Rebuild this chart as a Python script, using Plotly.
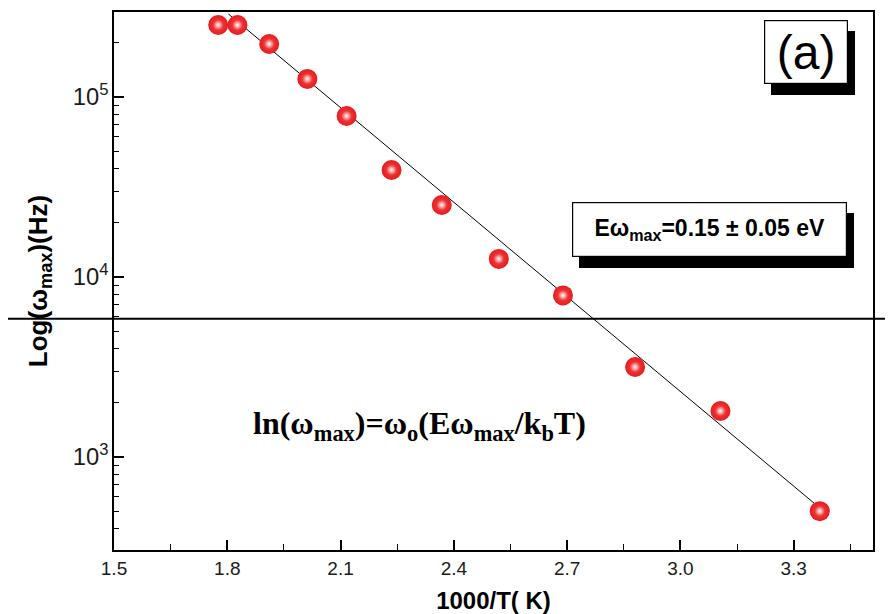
import plotly.graph_objects as go

# ---- data ----
inv_T = [1.776, 1.827, 1.911, 2.012, 2.116, 2.235, 2.368, 2.519, 2.689, 2.880, 3.106, 3.369]
omega_max = [2.51e5, 2.51e5, 1.97e5, 1.26e5, 7.84e4, 3.93e4, 2.51e4, 1.26e4, 7.9e3, 3.16e3, 1.80e3, 500]
fit_x = [1.803, 3.369]
fit_y = [2.89e5, 521]
hline_y = 5850
x_range = [1.5, 3.51]
y_range_log = [2.483, 5.472]
x_ticks = [1.5, 1.8, 2.1, 2.4, 2.7, 3.0, 3.3]
x_ticklabels = ["1.5", "1.8", "2.1", "2.4", "2.7", "3.0", "3.3"]

SANS = "Liberation Sans, Arial, sans-serif"
SERIF = "Liberation Serif, Times New Roman, serif"
RED = "#e8191c"

fig = go.Figure()

fig.add_trace(go.Scatter(
    x=fit_x, y=fit_y, mode="lines",
    line=dict(color="black", width=1), showlegend=False, hoverinfo="skip"))

# sphere body
fig.add_trace(go.Scatter(
    x=inv_T, y=omega_max, mode="markers",
    marker=dict(size=20, color=RED,
                gradient=dict(type="radial", color="#f05050"),
                line=dict(width=0)),
    showlegend=False))
# sphere highlight
fig.add_trace(go.Scatter(
    x=inv_T, y=omega_max, mode="markers",
    marker=dict(size=10, color="#ee3a3a",
                gradient=dict(type="radial", color="#ffffff"),
                line=dict(width=0)),
    showlegend=False, hoverinfo="skip"))

fig.add_shape(type="line", xref="paper", yref="y",
              x0=-0.14, x1=1.03, y0=hline_y, y1=hline_y,
              line=dict(color="black", width=2))


def boxed(text, x, y, size, w, h, font_family, sx, sy):
    common = dict(xref="paper", yref="paper", x=x, y=y, text=text, showarrow=False,
                  xanchor="center", yanchor="middle", width=w, height=h,
                  font=dict(size=size, color="black", family=font_family))
    fig.add_annotation(bgcolor="black", bordercolor="black", borderwidth=1,
                       xshift=sx, yshift=sy, **common)
    fig.add_annotation(bgcolor="white", bordercolor="black", borderwidth=1.2, **common)


boxed("(a)", 0.912, 0.925, 48, 80, 60, SANS, 7, -11)
boxed("<b>Eω<sub>max</sub>=0.15 ± 0.05 eV</b>", 0.785, 0.595, 23, 271, 51, SANS, 7, -11)

fig.add_annotation(xref="paper", yref="paper", x=0.403, y=0.232, showarrow=False,
                   xanchor="center", yanchor="middle",
                   text="<b>ln(ω<sub>max</sub>)=ω<sub>o</sub>(Eω<sub>max</sub>/k<sub>b</sub>T)</b>",
                   font=dict(size=32, color="black", family=SERIF))

axis_common = dict(showline=True, linecolor="black", linewidth=1.5, mirror=True,
                   ticks="inside", tickcolor="black", tickwidth=1.5, ticklen=10,
                   showgrid=False, zeroline=False, automargin=False)

fig.update_xaxes(range=x_range, tickmode="array", tickvals=x_ticks, ticktext=x_ticklabels,
                 tickfont=dict(family=SANS, size=19, color="#1a1a1a"),
                 minor=dict(ticks="inside", ticklen=6, tickwidth=1.2, tickcolor="black",
                            dtick=0.15, tick0=1.5),
                 title=dict(text="<b>1000/T( K)</b>", standoff=16,
                            font=dict(family=SANS, size=24, color="black")),
                 **axis_common)
fig.update_yaxes(type="log", range=y_range_log,
                 dtick=1, exponentformat="power",
                 tickfont=dict(family=SANS, size=19, color="#1a1a1a"),
                 minor=dict(ticks="inside", ticklen=5, tickwidth=1.2, tickcolor="black", dtick="D1"),
                 title=dict(text="<b>Log(ω<sub>max</sub>)(Hz)</b>", standoff=18,
                            font=dict(family=SANS, size=26, color="black")),
                 **axis_common)

# page body has a default 8px margin, so the figure is offset by 8px
fig.update_layout(width=885, height=606, margin=dict(l=106, r=20, t=4, b=64),
                  plot_bgcolor="white", paper_bgcolor="white")

fig.write_html("out.html")
